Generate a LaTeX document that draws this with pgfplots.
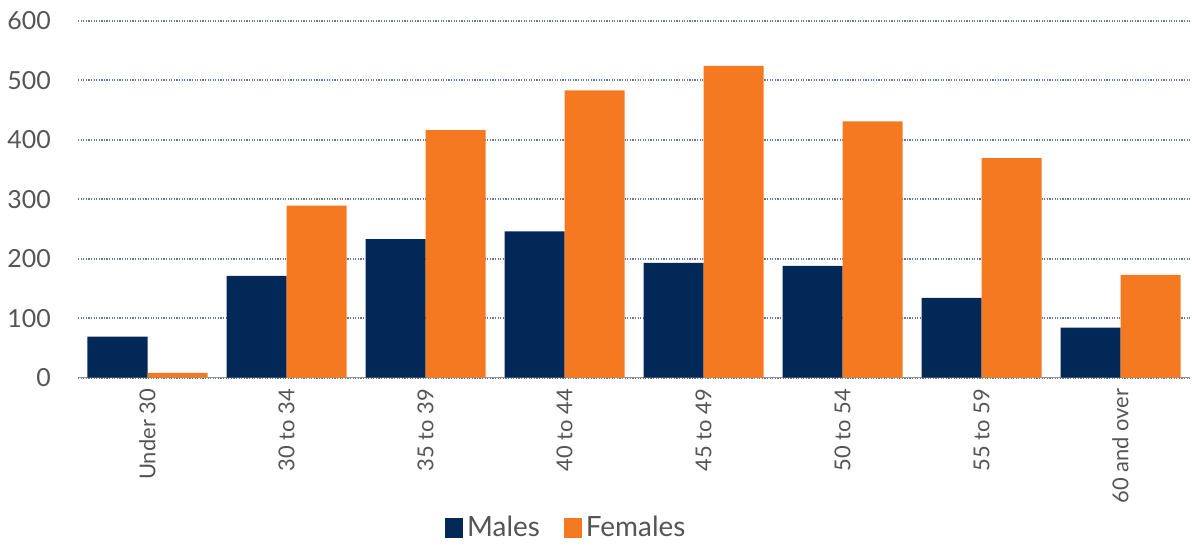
\documentclass[border=0pt]{standalone}
\usepackage{pgfplots}
\pgfplotsset{compat=1.18}
\usepackage{fontspec}
\setmainfont{Lato}

\definecolor{malenavy}{RGB}{1,40,86}
\definecolor{femaleorange}{RGB}{245,121,32}
\definecolor{gridblue}{RGB}{105,120,150}
\definecolor{labelgray}{RGB}{85,85,85}
\definecolor{axisgray}{RGB}{150,150,150}

\begin{document}
\begin{tikzpicture}
\path[use as bounding box] (-39bp,-85.15bp) rectangle (557bp,188.85bp);
\begin{axis}[
  scale only axis,
  width=556bp, height=178.5bp,
  xmin=-0.5, xmax=7.5,
  ymin=0, ymax=600,
  ybar=0pt, bar width=30bp,
  axis x line=bottom,
  axis y line=left,
  x axis line style={-, draw=axisgray, line width=0.8pt},
  y axis line style={draw=none},
  xtick={0,1,2,3,4,5,6,7},
  xticklabels={Under 30,30 to 34,35 to 39,40 to 44,45 to 49,50 to 54,55 to 59,60 and over},
  x tick style={draw=none},
  extra x ticks={-0.5,0.5,1.5,2.5,3.5,4.5,5.5,6.5,7.5},
  extra x tick labels={},
  extra x tick style={tick style={draw=axisgray, line width=0.6pt}, major tick length=4bp, tick align=outside, grid=none},
  xticklabel style={rotate=90, anchor=east, font=\fontsize{11}{13}\selectfont, text=labelgray},
  ytick={0,100,...,600},
  y tick style={draw=none},
  yticklabel style={font=\fontsize{12.5}{14}\selectfont, text=labelgray, xshift=-8bp},
  /pgf/number format/assume math mode=true,
  ymajorgrids,
  major grid style={gridblue, line width=0.9pt, dash pattern=on 0.6pt off 0.7pt},
  legend style={at={(rel axis cs:0.44,-0.42)}, anchor=center, draw=none, fill=none,
    font=\fontsize{14}{16}\selectfont, text=labelgray, legend columns=2,
    /tikz/every even column/.append style={column sep=10bp}},
  legend image code/.code={\fill[#1] (0bp,-5bp) rectangle (9bp,5bp);},
]
\addplot[fill=malenavy, draw=none] coordinates {
  (0,69) (1,171) (2,233) (3,246) (4,193) (5,188) (6,134) (7,84)};
\addplot[fill=femaleorange, draw=none] coordinates {
  (0,8) (1,289) (2,416) (3,483) (4,524) (5,431) (6,369) (7,173)};
\legend{Males, Females}
\end{axis}
\end{tikzpicture}
\end{document}
